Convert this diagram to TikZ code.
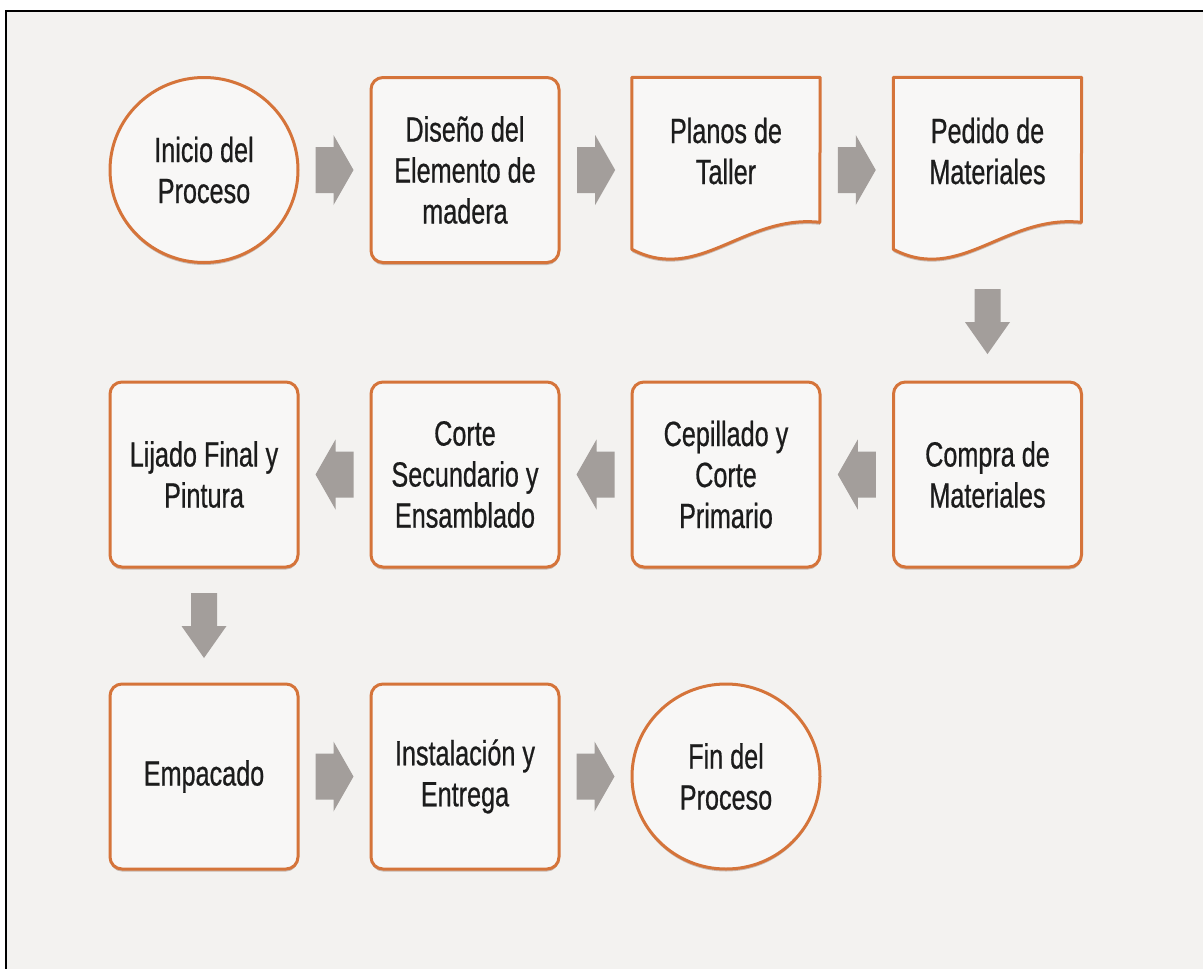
\documentclass[tikz,border=0pt]{standalone}
\usepackage{fontspec}
\setmainfont{Liberation Sans}[FakeStretch=0.72,FakeBold=0.6]
\usetikzlibrary{shapes.geometric,shadows,calc}

\definecolor{pagebg}{RGB}{243,242,240}
\definecolor{boxfill}{RGB}{248,247,246}
\definecolor{orangeline}{RGB}{213,116,58}
\definecolor{arrowgray}{RGB}{163,158,155}
\definecolor{ink}{RGB}{28,28,28}
\definecolor{shadowc}{RGB}{120,80,60}

% outline of a document symbol (wavy bottom) around a frame node
\newcommand\docoutline[1]{%
  \draw[docline] (#1.north west) -- (#1.north east)
    -- ($(#1.north west)+(188,145)$)
    .. controls ($(#1.north west)+(112,137)$) and ($(#1.north west)+(67,207)$) ..
    ($(#1.north west)+(0,172)$) -- cycle;}

\begin{document}
\begin{tikzpicture}[x=1pt,y=-1pt,
  boxshadow/.style={drop shadow={shadow xshift=0pt,shadow yshift=-2.5pt,opacity=.35,fill=shadowc}},
  labeltext/.style={font=\fontsize{35}{41}\selectfont, text=ink, align=center},
  stepbox/.style={labeltext, draw=orangeline, line width=3pt, fill=boxfill,
    rounded corners=12pt, minimum width=188pt, minimum height=185pt,
    inner sep=0pt, boxshadow},
  endpoint/.style={labeltext, ellipse, draw=orangeline, line width=3pt, fill=boxfill,
    minimum width=188pt, minimum height=185pt, inner sep=0pt, boxshadow},
  docframe/.style={minimum width=188pt, minimum height=185pt, inner sep=0pt},
  docline/.style={draw=orangeline, line width=3pt, fill=boxfill, line join=round, boxshadow},
  doctext/.style={labeltext, inner sep=0pt},
  arrowfill/.style={fill=arrowgray},
  rarr/.pic={\fill[arrowfill] (-19,-23) -- (-1,-23) -- (-1,-35) -- (19,0)
      -- (-1,35) -- (-1,23) -- (-19,23) -- cycle;},
  darr/.pic={\fill[arrowfill] (-13,-32.5) -- (13,-32.5) -- (13,0.5) -- (22.5,0.5)
      -- (0,32.5) -- (-22.5,0.5) -- (-13,0.5) -- cycle;}
]
\useasboundingbox (0,0) rectangle (1203,969);

% page and frame
\fill[white] (0,0) rectangle (1203,969);
\fill[pagebg] (6,11) rectangle (1203,969);
\draw[black, line width=2.5pt] (6,969) -- (6,11) -- (1203,11);

% row 1
\node[endpoint] (start) at (204,170) {Inicio del\\Proceso};
\node[stepbox] (diseno) at (465,170) {Diseño del\\Elemento de\\madera};
\node[docframe] (planos) at (726,170) {};
\docoutline{planos}
\node[doctext] (planostxt) at ($(planos.center)+(0,-19)$) {Planos de\\Taller};
\node[docframe] (pedido) at (987.5,170) {};
\docoutline{pedido}
\node[doctext] (pedidotxt) at ($(pedido.center)+(0,-19)$) {Pedido de\\Materiales};

% row 2
\node[stepbox] (compra) at (987.5,474.5) {Compra de\\Materiales};
\node[stepbox] (cepillado) at (726,474.5) {Cepillado y\\Corte\\Primario};
\node[stepbox] (corte) at (465,474.5) {Corte\\Secundario y\\Ensamblado};
\node[stepbox] (lijado) at (204,474.5) {Lijado Final y\\Pintura};

% row 3
\node[stepbox] (empacado) at (204,776.5) {Empacado};
\node[stepbox] (instalacion) at (465,776.5) {Instalación y\\Entrega};
\node[endpoint] (fin) at (726,776.5) {Fin del\\Proceso};

% block arrows halfway between consecutive steps
\path (start) -- coordinate[midway] (a1) (diseno);
\path (diseno) -- coordinate[midway] (a2) (planos);
\path (planos) -- coordinate[midway] (a3) (pedido);
\path (pedido) -- coordinate[midway] (a4) (compra);
\path (compra) -- coordinate[midway] (a5) (cepillado);
\path (cepillado) -- coordinate[midway] (a6) (corte);
\path (corte) -- coordinate[midway] (a7) (lijado);
\path (lijado) -- coordinate[midway] (a8) (empacado);
\path (empacado) -- coordinate[midway] (a9) (instalacion);
\path (instalacion) -- coordinate[midway] (a10) (fin);

\pic at (a1) {rarr};
\pic at (a2) {rarr};
\pic at (a3) {rarr};
\pic at (a4) {darr};
\pic[rotate=180] at (a5) {rarr};
\pic[rotate=180] at (a6) {rarr};
\pic[rotate=180] at (a7) {rarr};
\pic at (a8) {darr};
\pic at (a9) {rarr};
\pic at (a10) {rarr};
\end{tikzpicture}
\end{document}
